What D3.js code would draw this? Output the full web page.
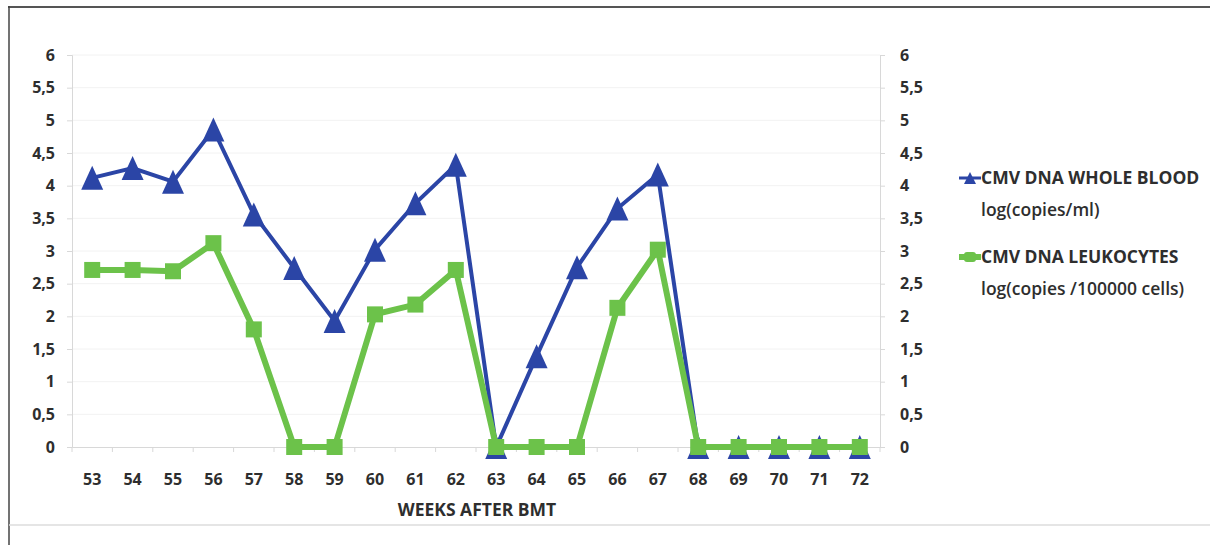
<!DOCTYPE html>
<html><head><meta charset="utf-8">
<script src="https://cdn.jsdelivr.net/npm/d3@7"></script>
<style>body{margin:0;background:#fff}svg{display:block}text{font-family:"Open Sans",Lato,sans-serif;font-weight:700;fill:#2e2e2e}</style>
</head><body><svg id="c" width="1210" height="545"></svg>
<script>
const weeks = ["53","54","55","56","57","58","59","60","61","62","63","64","65","66","67","68","69","70","71","72"];
const wholeBlood = [4.12,4.27,4.06,4.86,3.56,2.74,1.93,3.02,3.73,4.32,0,1.39,2.75,3.65,4.17,0,0,0,0,0];
const leukocytes = [2.71,2.71,2.69,3.12,1.8,0,0,2.03,2.18,2.71,0,0,0,2.13,3.02,0,0,0,0,0];
const yTicks = [0,0.5,1,1.5,2,2.5,3,3.5,4,4.5,5,5.5,6];
const legendItems = [
  {l1:"CMV DNA WHOLE BLOOD", l2:"log(copies/ml)"},
  {l1:"CMV DNA LEUKOCYTES", l2:"log(copies /100000 cells)"}
];
const svg = d3.select("#c");
const blue = "#2b45a6", green = "#6cc24a";
// frame
svg.append("line").attr("x1",8).attr("x2",1210).attr("y1",7).attr("y2",7).attr("stroke","#555").attr("stroke-width",2);
svg.append("line").attr("x1",9).attr("x2",9).attr("y1",6).attr("y2",545).attr("stroke","#444").attr("stroke-width",1.5);
svg.append("line").attr("x1",9).attr("x2",1210).attr("y1",525).attr("y2",525).attr("stroke","#ddd").attr("stroke-width",1.5);

const x = d3.scaleBand().domain(weeks).range([72,880]);
const y = d3.scaleLinear().domain([0,6]).range([447,55]);
const fmt = d => String(d).replace(".",",");
// grid
svg.append("g").selectAll("line").data(yTicks.filter(d=>d>0)).join("line")
  .attr("x1",72).attr("x2",880).attr("y1",d=>y(d)).attr("y2",d=>y(d)).attr("stroke","#f2f2f2");
// axes
const gl = svg.append("g").attr("transform","translate(72,0)").call(d3.axisLeft(y).tickValues(yTicks).tickFormat(fmt).tickSize(5).tickPadding(12));
const gr = svg.append("g").attr("transform","translate(880,0)").call(d3.axisRight(y).tickValues(yTicks).tickFormat(fmt).tickSize(5).tickPadding(15));
[gl,gr].forEach(g=>{g.select(".domain").attr("stroke","#d8d8d8");g.selectAll(".tick line").attr("stroke","#d8d8d8");g.selectAll("text").style("font-size","16px").attr("fill","#2e2e2e");});
const gx = svg.append("g").attr("transform","translate(0,447)").call(d3.axisBottom(x).tickSize(0).tickPadding(27));
gx.select(".domain").attr("stroke","#d8d8d8");
gx.selectAll("text").style("font-size","16px").attr("fill","#2e2e2e");
gx.selectAll(".bt").data(d3.range(weeks.length+1)).join("line")
  .attr("x1",i=>72+i*x.step()).attr("x2",i=>72+i*x.step()).attr("y1",0).attr("y2",5).attr("stroke","#d8d8d8");
svg.append("text").attr("x",477).attr("y",516).attr("text-anchor","middle").style("font-size","17.5px").text("WEEKS AFTER BMT");

const cx = i => x(weeks[i]) + x.bandwidth()/2;
const line = d3.line().x((d,i)=>cx(i)).y(d=>y(d));
const triPath = "M0,-12L11,12L-11,12Z";
// blue
svg.append("path").datum(wholeBlood).attr("d",line).attr("fill","none").attr("stroke",blue).attr("stroke-width",4);
svg.append("g").selectAll("path").data(wholeBlood).join("path")
  .attr("d",triPath).attr("transform",(d,i)=>`translate(${cx(i)},${y(d)})`).attr("fill",blue);
// green
svg.append("path").datum(leukocytes).attr("d",line).attr("fill","none").attr("stroke",green).attr("stroke-width",6);
svg.append("g").selectAll("rect").data(leukocytes).join("rect")
  .attr("x",(d,i)=>cx(i)-8).attr("y",d=>y(d)-8).attr("width",16).attr("height",16).attr("fill",green);

// legend
const lg = svg.append("g");
legendItems.forEach((it,k)=>{
  const yy = 178 + k*79;
  const col = k===0?blue:green;
  lg.append("line").attr("x1",959).attr("x2",981).attr("y1",yy).attr("y2",yy).attr("stroke",col).attr("stroke-width",k===0?3:6);
  if(k===0) lg.append("path").attr("d","M0,-6L6,6L-6,6Z").attr("transform",`translate(970,${yy})`).attr("fill",col);
  else lg.append("rect").attr("x",964).attr("y",yy-5).attr("width",12).attr("height",10).attr("rx",3).attr("fill",col);
  lg.append("text").attr("x",981).attr("y",yy+6).style("font-size","17.5px").text(it.l1);
  lg.append("text").attr("x",981).attr("y",yy+38).style("font-size","17.5px").style("font-weight","600").text(it.l2);
});
</script></body></html>
